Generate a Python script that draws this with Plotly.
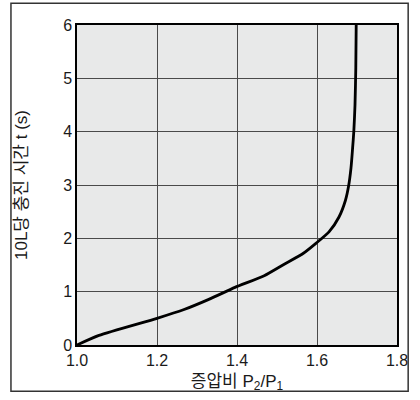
import plotly.graph_objects as go

ratio = [1.0, 1.055, 1.2, 1.266, 1.331, 1.395, 1.468, 1.517, 1.566, 1.598,
         1.630, 1.655, 1.671, 1.679, 1.685, 1.689, 1.692, 1.695, 1.697, 1.698]
time_s = [0, 0.18, 0.50, 0.66, 0.86, 1.08, 1.30, 1.51, 1.72, 1.91,
          2.12, 2.40, 2.71, 2.98, 3.32, 3.69, 4.0, 4.5, 5.2, 6.0]
x_ticks = [1.0, 1.2, 1.4, 1.6, 1.8]
x_tick_text = ["1.0", "1.2", "1.4", "1.6", "1.8"]
y_ticks = [0, 1, 2, 3, 4, 5, 6]

W, H = 420, 400
L, R, T, B = 77, 13.5, 25, 50
pw, ph = W - L - R, H - T - B

fig = go.Figure()
fig.add_trace(go.Scatter(x=ratio, y=time_s, mode="lines",
                         line=dict(color="black", width=2.8, shape="spline", smoothing=0.6),
                         hoverinfo="skip", showlegend=False))

font = dict(family="Liberation Sans, Arial, sans-serif", size=16, color="#1a1a1a")
fig.update_layout(
    width=W, height=H,
    margin=dict(l=L, r=R, t=T, b=B, pad=0),
    paper_bgcolor="white", plot_bgcolor="#e8e9e9",
    font=font,
    xaxis=dict(range=[1.0, 1.8], tickvals=x_ticks, ticktext=x_tick_text,
               showgrid=True, gridcolor="#4a4a4a", gridwidth=1.3,
               showline=True, linecolor="black", linewidth=1.5, mirror=True,
               zeroline=False, ticks="",
               title=dict(text="증압비 P<sub>2</sub>/P<sub>1</sub>",
                          font=dict(family="Liberation Sans, Noto Sans CJK KR, sans-serif",
                                    size=17, color="#1a1a1a"),
                          standoff=7)),
    yaxis=dict(range=[0, 6], tickvals=y_ticks,
               showgrid=True, gridcolor="#4a4a4a", gridwidth=1.3,
               showline=True, linecolor="black", linewidth=1.5, mirror=True,
               zeroline=False, ticks="",
               title=dict(text="10L당 충진 시간 t (s)",
                          font=dict(family="Liberation Sans, Noto Sans CJK KR, sans-serif",
                                    size=17, color="#1a1a1a"),
                          standoff=31)),
)

# outer frame around the whole figure
x0 = (9 - L) / pw
x1 = (418 - L) / pw
y1 = 1 + (T - 3) / ph
y0 = (H - B - 397) / ph
fig.add_shape(type="rect", xref="paper", yref="paper", x0=x0, x1=x1, y0=y0, y1=y1,
              line=dict(color="#333", width=1.5), layer="above")

fig.write_html("out.html", config={"displayModeBar": False},
               post_script="document.body.style.margin='0';document.body.style.overflow='hidden';")
